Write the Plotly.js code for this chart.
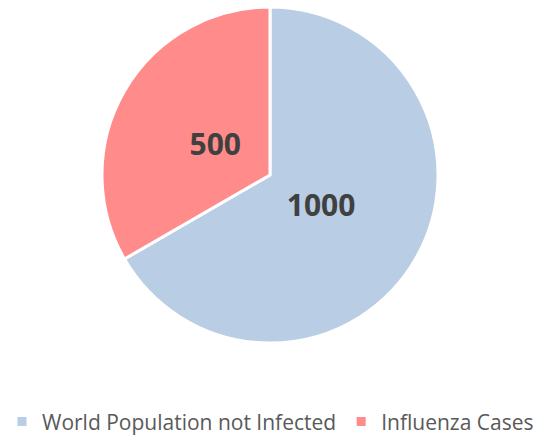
<!DOCTYPE html>
<html>
<head>
<meta charset="utf-8">
<script src="https://cdn.plot.ly/plotly-3.0.1.min.js"></script>
<style>html,body{margin:0;padding:0;background:#fff;}#chart{width:539px;height:437px;}</style>
</head>
<body>
<div id="chart"></div>
<script>
const categories = ["World Population not Infected", "Influenza Cases"];
const values = [1000, 500];
const colors = ["#B9CDE5", "#FF8B8B"];

const pieBase = {
  type: "pie",
  labels: categories,
  values: values,
  sort: false,
  direction: "clockwise",
  rotation: 0,
  hoverinfo: "none"
};

const data = [
  Object.assign({}, pieBase, {
    textinfo: "none",
    marker: {colors: colors, line: {color: "#ffffff", width: 3}},
    domain: {x: [0.1892, 0.8126], y: [0.2151, 0.9840]}
  }),
  // transparent inner copy that carries the value labels closer to the centre
  Object.assign({}, pieBase, {
    textinfo: "value",
    textposition: "inside",
    insidetextorientation: "horizontal",
    textfont: {family: "Open Sans", size: 30, color: "#404040", weight: "bold"},
    marker: {colors: ["rgba(0,0,0,0)", "rgba(0,0,0,0)"], line: {width: 0}},
    domain: {x: [0.2820, 0.7199], y: [0.3295, 0.8696]},
    showlegend: false
  })
];

const layout = {
  width: 539, height: 437,
  margin: {l: 0, r: 0, t: 0, b: 0, autoexpand: false},
  paper_bgcolor: "#ffffff",
  showlegend: true,
  legend: {
    orientation: "h",
    x: 0.0037, xanchor: "left",
    y: -0.012, yanchor: "bottom",
    font: {family: "Open Sans", size: 21, color: "#595959"},
    traceorder: "normal"
  }
};

Plotly.newPlot("chart", data, layout, {displayModeBar: false, staticPlot: true});
</script>
</body>
</html>
